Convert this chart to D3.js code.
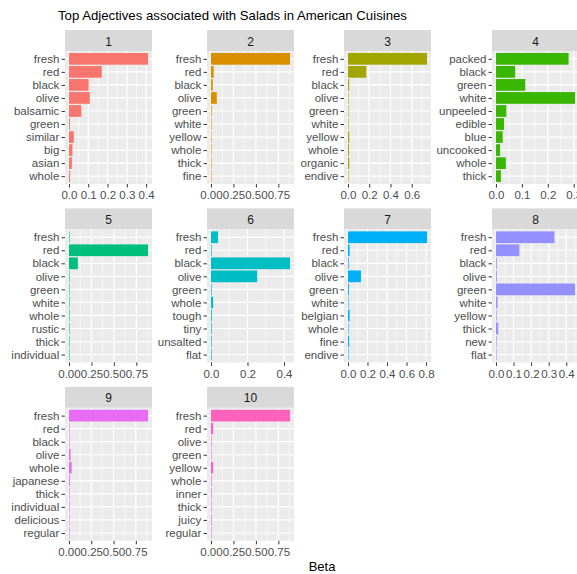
<!DOCTYPE html>
<html>
<head>
<meta charset="utf-8">
<script src="https://cdn.jsdelivr.net/npm/d3@7"></script>
<style>
  html, body { margin: 0; padding: 0; background: #ffffff; }
  svg { display: block; font-family: "Liberation Sans", Arial, sans-serif; }
</style>
</head>
<body>
<script>
// Topic facets
const topics = ["1", "2", "3", "4", "5", "6", "7", "8", "9", "10"];

// Top terms per topic (top to bottom)
const terms = [
  ["fresh", "red", "black", "olive", "balsamic", "green", "similar", "big", "asian", "whole"],
  ["fresh", "red", "black", "olive", "green", "white", "yellow", "whole", "thick", "fine"],
  ["fresh", "red", "black", "olive", "green", "white", "yellow", "whole", "organic", "endive"],
  ["packed", "black", "green", "white", "unpeeled", "edible", "blue", "uncooked", "whole", "thick"],
  ["fresh", "red", "black", "olive", "green", "white", "whole", "rustic", "thick", "individual"],
  ["fresh", "red", "black", "olive", "green", "whole", "tough", "tiny", "unsalted", "flat"],
  ["fresh", "red", "black", "olive", "green", "white", "belgian", "whole", "fine", "endive"],
  ["fresh", "red", "black", "olive", "green", "white", "yellow", "thick", "new", "flat"],
  ["fresh", "red", "black", "olive", "whole", "japanese", "thick", "individual", "delicious", "regular"],
  ["fresh", "red", "olive", "green", "yellow", "whole", "inner", "thick", "juicy", "regular"]
];

// Beta (term probability) per topic, same order as terms
const betas = [
  [0.410, 0.170, 0.102, 0.108, 0.064, 0.005, 0.025, 0.018, 0.015, 0.006],
  [0.880, 0.030, 0.020, 0.065, 0.008, 0.001, 0.001, 0.001, 0.001, 0.001],
  [0.744, 0.172, 0.011, 0.005, 0.004, 0.003, 0.012, 0.010, 0.012, 0.001],
  [0.280, 0.074, 0.113, 0.305, 0.040, 0.031, 0.026, 0.016, 0.038, 0.019],
  [0.001, 0.880, 0.099, 0.001, 0.001, 0.001, 0.001, 0.003, 0.001, 0.003],
  [0.039, 0.004, 0.433, 0.253, 0.004, 0.012, 0.005, 0.004, 0.004, 0.004],
  [0.810, 0.017, 0.008, 0.133, 0.010, 0.002, 0.017, 0.002, 0.012, 0.002],
  [0.333, 0.133, 0.005, 0.005, 0.450, 0.009, 0.004, 0.013, 0.004, 0.003],
  [0.887, 0.004, 0.001, 0.018, 0.030, 0.010, 0.001, 0.001, 0.001, 0.001],
  [0.880, 0.025, 0.001, 0.001, 0.025, 0.008, 0.008, 0.001, 0.008, 0.001]
];

// Tick labels on each facet's Beta axis
const tickLabels = [
  ["0.0", "0.1", "0.2", "0.3", "0.4"],
  ["0.00", "0.25", "0.50", "0.75"],
  ["0.0", "0.2", "0.4", "0.6"],
  ["0.0", "0.1", "0.2", "0.3"],
  ["0.00", "0.25", "0.50", "0.75"],
  ["0.0", "0.2", "0.4"],
  ["0.0", "0.2", "0.4", "0.6", "0.8"],
  ["0.0", "0.1", "0.2", "0.3", "0.4"],
  ["0.00", "0.25", "0.50", "0.75"],
  ["0.00", "0.25", "0.50", "0.75"]
];

// Default hue palette, one colour per topic
const barColors = ["#F8766D", "#D89000", "#A3A500", "#39B600", "#00BF7D",
                   "#00BFC4", "#00B0F6", "#9590FF", "#E76BF3", "#FF62BC"];

const W = 577, H = 574;
const nCols = 4;
const panelLefts = [65, 207, 344, 492];   // left edge of the panel in each column
const rowTops = [30, 208.4, 386.8];        // top edge of the strip in each row
const panelW = 87, stripH = 21, panelH = 133;

const svg = d3.select("body").append("svg")
  .attr("width", W).attr("height", H);

svg.append("rect").attr("width", W).attr("height", H).attr("fill", "#ffffff");

svg.append("text")
  .attr("x", 58).attr("y", 19.5)
  .attr("font-size", 13.2).attr("fill", "#000000")
  .text("Top Adjectives associated with Salads in American Cuisines");

topics.forEach((topic, i) => {
  const col = i % nCols, row = Math.floor(i / nCols);
  const left = panelLefts[col];
  const stripTop = rowTops[row];
  const top = stripTop + stripH;
  const bottom = top + panelH;

  const vals = betas[i];
  const maxV = d3.max(vals);
  const pad = maxV * 0.05;
  const x = d3.scaleLinear().domain([-pad, maxV + pad]).range([left, left + panelW]);
  const y = d3.scalePoint().domain(terms[i]).range([top, bottom]).padding(0.6);
  const bh = y.step() * 0.9;

  const g = svg.append("g");

  // strip
  g.append("rect")
    .attr("x", left).attr("y", stripTop).attr("width", panelW).attr("height", stripH)
    .attr("fill", "#D9D9D9");
  g.append("text")
    .attr("x", left + panelW / 2).attr("y", stripTop + stripH / 2 + 1)
    .attr("text-anchor", "middle").attr("dominant-baseline", "central")
    .attr("font-size", 12).attr("fill", "#1A1A1A")
    .text(topic);

  // panel background
  g.append("rect")
    .attr("x", left).attr("y", top).attr("width", panelW).attr("height", panelH)
    .attr("fill", "#EBEBEB");

  const majors = tickLabels[i].map(Number);
  const stepT = majors[1] - majors[0];
  const dom = x.domain();
  const minors = [majors[0] - stepT / 2].concat(majors.map(m => m + stepT / 2))
    .filter(m => m >= dom[0] && m <= dom[1]);

  g.selectAll(".minor").data(minors).join("line")
    .attr("x1", d => x(d)).attr("x2", d => x(d))
    .attr("y1", top).attr("y2", bottom)
    .attr("stroke", "#ffffff").attr("stroke-width", 0.6);
  g.selectAll(".majorx").data(majors).join("line")
    .attr("x1", d => x(d)).attr("x2", d => x(d))
    .attr("y1", top).attr("y2", bottom)
    .attr("stroke", "#ffffff").attr("stroke-width", 1.2);
  g.selectAll(".majory").data(terms[i]).join("line")
    .attr("x1", left).attr("x2", left + panelW)
    .attr("y1", d => y(d)).attr("y2", d => y(d))
    .attr("stroke", "#ffffff").attr("stroke-width", 1.2);

  // bars
  g.selectAll(".bar").data(terms[i].map((t, k) => ({ term: t, beta: vals[k] }))).join("rect")
    .attr("x", x(0))
    .attr("y", d => y(d.term) - bh / 2)
    .attr("width", d => Math.max(0.6, x(d.beta) - x(0)))
    .attr("height", bh)
    .attr("fill", barColors[i]);

  // axes
  const ax = g.append("g")
    .attr("transform", `translate(0,${bottom})`)
    .call(d3.axisBottom(x).tickValues(majors).tickFormat((d, k) => tickLabels[i][k])
      .tickSize(3.5).tickPadding(3.5));
  const ay = g.append("g")
    .attr("transform", `translate(${left},0)`)
    .call(d3.axisLeft(y).tickSize(3.5).tickPadding(2.2));

  [ax, ay].forEach(a => {
    a.select(".domain").remove();
    a.selectAll(".tick line").attr("stroke", "#333333").attr("stroke-width", 1);
    a.selectAll(".tick text").attr("fill", "#4D4D4D")
      .attr("font-size", 11.5).attr("font-family", "Liberation Sans, Arial, sans-serif");
  });
});

svg.append("text")
  .attr("x", 322).attr("y", 571)
  .attr("text-anchor", "middle")
  .attr("font-size", 13).attr("fill", "#000000")
  .text("Beta");
</script>
</body>
</html>
